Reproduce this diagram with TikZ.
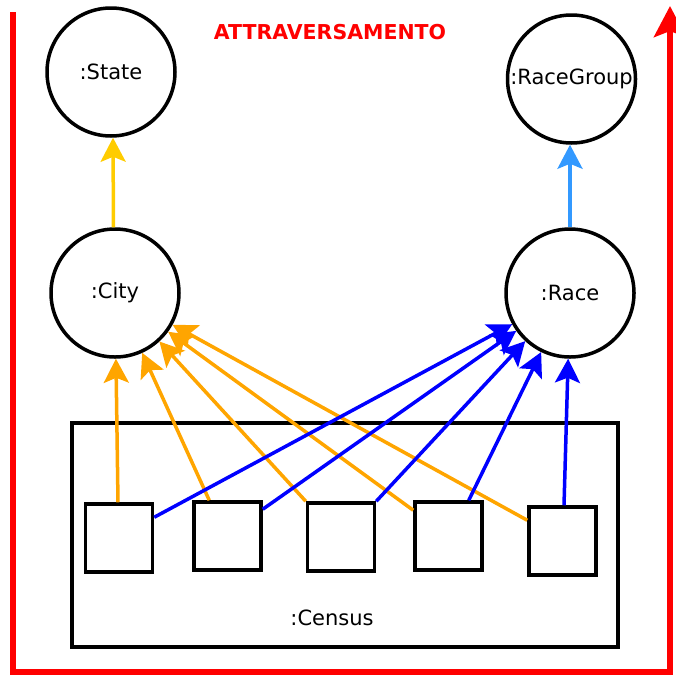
\documentclass[tikz,border=0pt]{standalone}
\usepackage{fontspec}
\setmainfont{DejaVu Sans}
\usetikzlibrary{arrows.meta}

\definecolor{frame}{HTML}{FF0000}
\definecolor{citylink}{HTML}{FFA500}
\definecolor{racelink}{HTML}{0000FF}
\definecolor{statelink}{HTML}{FFCC00}
\definecolor{grouplink}{HTML}{3399FF}

\tikzset{
  entity/.style={circle, draw=black, line width=3.5pt, minimum size=128pt,
    inner sep=0pt, font=\fontsize{21}{24}\selectfont},
  record/.style={rectangle, draw=black, line width=3.5pt,
    minimum width=67pt, minimum height=68pt, inner sep=0pt},
  container/.style={rectangle, draw=black, line width=3.5pt,
    minimum width=546pt, minimum height=224pt, inner sep=0pt},
  caption/.style={font=\fontsize{21}{24}\selectfont, inner sep=0pt},
  link/.style={line width=3.5pt,
    -{Stealth[length=24pt, width=25pt, inset=5pt]}},
  tocity/.style={link, draw=citylink},
  torace/.style={link, draw=racelink},
  tostate/.style={link, draw=statelink},
  togroup/.style={link, draw=grouplink},
  traversal/.style={draw=frame, line width=6pt,
    -{Stealth[length=31pt, width=32pt, inset=6pt]}}
}

\begin{document}
\begin{tikzpicture}[x=1pt, y=-1pt]
  \useasboundingbox (0,0) rectangle (676,675);

  % traversal frame
  \coordinate (ftop) at (13,12);
  \coordinate (fbl) at (13,672);
  \coordinate (fbr) at (670,672);
  \coordinate (fend) at (670,6);
  \draw[traversal] (ftop) -- (fbl) -- (fbr) -- (fend);
  \node[text=frame, font=\fontsize{20.5}{24}\bfseries\selectfont, inner sep=0pt]
    (title) at (330,32.5) {ATTRAVERSAMENTO};

  % entities
  \node[entity] (state) at (111,72) {:State};
  \node[entity] (racegroup) at (571.5,79) {:RaceGroup};
  \node[entity] (city) at (115,293) {:City};
  \node[entity] (race) at (570,293) {:Race};

  % census container and its records
  \node[container] (census) at (344.75,534.75) {};
  \node[caption] (censuslabel) at (332,618) {:Census};
  \node[record] (s1) at (119,538) {};
  \node[record] (s2) at (227.5,536) {};
  \node[record] (s3) at (341,537) {};
  \node[record] (s4) at (448.5,536) {};
  \node[record] (s5) at (562.5,541) {};

  % hierarchy links
  \draw[tostate] ([xshift=-1.5pt]city.north) -- ([xshift=2pt]state.south);
  \draw[togroup] (race.north) -- ([xshift=-1.5pt]racegroup.south);

  % census -> city
  \draw[tocity] ([xshift=-1pt]s1.north) -- (city);
  \draw[tocity] ([xshift=17pt]s2.north west) -- (city);
  \draw[tocity] (s3.north west) -- (city);
  \draw[tocity] ([yshift=-10pt]s4.north west) -- (city);
  \draw[tocity] ([yshift=-15pt]s5.north west) -- (city);

  % census -> race
  \draw[torace] ([yshift=-15pt]s1.north east) -- (race);
  \draw[torace] ([yshift=-9pt]s2.north east) -- (race);
  \draw[torace] (s3.north east) -- (race);
  \draw[torace] ([xshift=-15pt]s4.north east) -- (race);
  \draw[torace] ([xshift=1.5pt]s5.north) -- (race);
\end{tikzpicture}
\end{document}
